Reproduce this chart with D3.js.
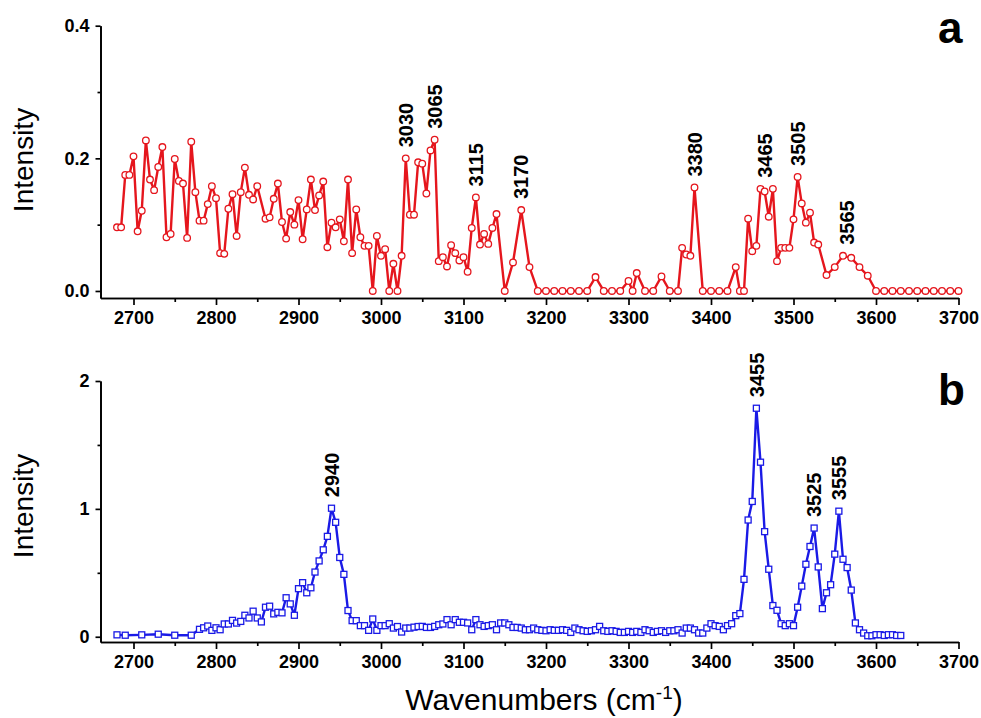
<!DOCTYPE html>
<meta charset="utf-8">
<style>
body { margin: 0; background: #fff; }
text { font-family: Arial, "Liberation Sans", sans-serif; }
.axis path, .axis line { stroke: #000; stroke-width: 1.7px; }
.axis text { font-size: 18px; font-weight: bold; fill: #000; }
.peak { font-size: 20px; font-weight: bold; }
</style>
<svg width="981" height="718"></svg>
<script src="https://d3js.org/d3.v7.min.js"></script>
<script>

// panel a : wavenumber (cm-1) and intensity
var waveA = [2680, 2685, 2690, 2695, 2700, 2705, 2710, 2715, 2720, 2725, 2730, 2735, 2740, 2745, 2750, 2755, 2760, 2765, 2770, 2775,
  2780, 2785, 2790, 2795, 2800, 2805, 2810, 2815, 2820, 2825, 2830, 2835, 2840, 2845, 2850, 2860, 2865, 2870, 2875, 2880,
  2885, 2890, 2895, 2900, 2905, 2910, 2915, 2920, 2925, 2930, 2935, 2940, 2945, 2950, 2955, 2960, 2965, 2970, 2975, 2980,
  2985, 2990, 2995, 3000, 3005, 3010, 3015, 3020, 3025, 3030, 3035, 3040, 3045, 3050, 3055, 3060, 3065, 3070, 3075, 3080,
  3085, 3090, 3095, 3100, 3105, 3110, 3115, 3120, 3125, 3130, 3135, 3140, 3150, 3160, 3170, 3180, 3190, 3200, 3210, 3220,
  3230, 3240, 3250, 3260, 3270, 3280, 3290, 3300, 3305, 3310, 3320, 3330, 3340, 3350, 3360, 3365, 3370, 3375, 3380, 3390,
  3400, 3410, 3420, 3430, 3435, 3440, 3445, 3450, 3455, 3460, 3465, 3470, 3475, 3480, 3485, 3490, 3495, 3500, 3505, 3510,
  3515, 3520, 3525, 3530, 3540, 3550, 3560, 3570, 3580, 3590, 3600, 3610, 3620, 3630, 3640, 3650, 3660, 3670, 3680, 3690,
  3700];
var intA = [0.096, 0.096, 0.175, 0.175, 0.203, 0.090, 0.121, 0.227, 0.168, 0.152, 0.187, 0.217, 0.081, 0.086, 0.199, 0.166, 0.162, 0.080, 0.225, 0.149,
  0.106, 0.106, 0.131, 0.158, 0.140, 0.057, 0.056, 0.124, 0.146, 0.083, 0.149, 0.186, 0.145, 0.138, 0.158, 0.109, 0.111, 0.139, 0.162, 0.104,
  0.079, 0.119, 0.100, 0.137, 0.078, 0.123, 0.168, 0.122, 0.144, 0.165, 0.066, 0.103, 0.096, 0.108, 0.075, 0.168, 0.057, 0.123, 0.081, 0.068,
  0.068, 0.000, 0.083, 0.053, 0.063, 0.000, 0.041, 0.000, 0.053, 0.200, 0.115, 0.115, 0.194, 0.192, 0.147, 0.212, 0.228, 0.045, 0.051, 0.037,
  0.069, 0.057, 0.046, 0.051, 0.029, 0.095, 0.141, 0.070, 0.086, 0.071, 0.095, 0.116, 0.000, 0.043, 0.122, 0.036, 0.000, 0.000, 0.000, 0.000,
  0.000, 0.000, 0.000, 0.021, 0.000, 0.000, 0.000, 0.015, 0.000, 0.027, 0.000, 0.000, 0.022, 0.000, 0.000, 0.065, 0.055, 0.053, 0.156, 0.000,
  0.000, 0.000, 0.000, 0.036, 0.000, 0.000, 0.109, 0.060, 0.068, 0.154, 0.150, 0.112, 0.154, 0.045, 0.065, 0.065, 0.065, 0.108, 0.172, 0.132,
  0.103, 0.118, 0.073, 0.070, 0.024, 0.036, 0.053, 0.050, 0.036, 0.023, 0.000, 0.000, 0.000, 0.000, 0.000, 0.000, 0.000, 0.000, 0.000, 0.000,
  0.000];
var peaksA = [3030, 3065, 3115, 3170, 3380, 3465, 3505, 3565];

// panel b
var waveB = [2680, 2690, 2710, 2730, 2750, 2770, 2780, 2785, 2790, 2795,
  2800, 2805, 2810, 2815, 2820, 2825, 2830, 2835, 2840, 2845, 2850, 2855, 2860, 2865, 2870, 2875, 2880, 2885, 2890, 2895,
  2900, 2905, 2910, 2915, 2920, 2925, 2930, 2935, 2940, 2945, 2950, 2955, 2960, 2965, 2970, 2975, 2980, 2985, 2990, 2995,
  3000, 3005, 3010, 3015, 3020, 3025, 3030, 3035, 3040, 3045, 3050, 3055, 3060, 3065, 3070, 3075, 3080, 3085, 3090, 3095,
  3100, 3105, 3110, 3115, 3120, 3125, 3130, 3135, 3140, 3145, 3150, 3155, 3160, 3165, 3170, 3175, 3180, 3185, 3190, 3195,
  3200, 3205, 3210, 3215, 3220, 3225, 3230, 3235, 3240, 3245, 3250, 3255, 3260, 3265, 3270, 3275, 3280, 3285, 3290, 3295,
  3300, 3305, 3310, 3315, 3320, 3325, 3330, 3335, 3340, 3345, 3350, 3355, 3360, 3365, 3370, 3375, 3380, 3385, 3390, 3395,
  3400, 3405, 3410, 3415, 3420, 3425, 3430, 3435, 3440, 3445, 3450, 3455, 3460, 3465, 3470, 3475, 3480, 3485, 3490, 3495,
  3500, 3505, 3510, 3515, 3520, 3525, 3530, 3535, 3540, 3545, 3550, 3555, 3560, 3565, 3570, 3575, 3580, 3585, 3590, 3595,
  3600, 3605, 3610, 3615, 3620, 3625, 3630];
var intB = [0.015, 0.012, 0.015, 0.020, 0.012, 0.012, 0.058, 0.070, 0.084, 0.050,
  0.070, 0.055, 0.100, 0.100, 0.128, 0.107, 0.120, 0.168, 0.147, 0.200, 0.147, 0.116, 0.231, 0.239, 0.179, 0.191, 0.187, 0.305, 0.257, 0.168,
  0.376, 0.423, 0.344, 0.383, 0.506, 0.593, 0.680, 0.785, 1.005, 0.895, 0.620, 0.488, 0.205, 0.126, 0.126, 0.087, 0.087, 0.050, 0.139, 0.050,
  0.087, 0.087, 0.102, 0.068, 0.080, 0.037, 0.068, 0.068, 0.075, 0.080, 0.081, 0.073, 0.073, 0.081, 0.094, 0.100, 0.134, 0.094, 0.134, 0.113,
  0.113, 0.108, 0.055, 0.134, 0.094, 0.081, 0.087, 0.094, 0.055, 0.108, 0.108, 0.094, 0.073, 0.073, 0.068, 0.055, 0.055, 0.068, 0.055, 0.050,
  0.047, 0.055, 0.050, 0.050, 0.055, 0.050, 0.034, 0.068, 0.055, 0.047, 0.042, 0.047, 0.055, 0.081, 0.047, 0.042, 0.047, 0.042, 0.034, 0.034,
  0.042, 0.034, 0.042, 0.034, 0.055, 0.047, 0.034, 0.042, 0.047, 0.034, 0.047, 0.047, 0.055, 0.029, 0.068, 0.068, 0.055, 0.029, 0.029, 0.068,
  0.102, 0.087, 0.081, 0.055, 0.087, 0.102, 0.165, 0.181, 0.449, 0.913, 1.058, 1.787, 1.365, 0.822, 0.528, 0.244, 0.207, 0.102, 0.087, 0.102,
  0.087, 0.231, 0.396, 0.567, 0.706, 0.850, 0.546, 0.220, 0.344, 0.407, 0.646, 0.982, 0.606, 0.541, 0.365, 0.108, 0.055, 0.029, 0.008, 0.008,
  0.016, 0.016, 0.010, 0.016, 0.016, 0.010, 0.010];
var peaksB = [2940, 3455, 3525, 3555];

var xMajor = [2700, 2800, 2900, 3000, 3100, 3200, 3300, 3400, 3500, 3600, 3700];
var xMinor = [2750, 2850, 2950, 3050, 3150, 3250, 3350, 3450, 3550, 3650];

var svg = d3.select("svg");

var x = d3.scaleLinear().domain([2660, 3700]).range([100.5, 958.5]);

var panels = [
  { wave: waveA, inten: intA, peaks: peaksA, color: "#e5161d", mark: "circle", letter: "a",
    y: d3.scaleLinear().domain([-0.0106, 0.4]).range([298, 25.7]),
    yMajor: [0, 0.2, 0.4], yMinor: [0.1, 0.3], fmt: d3.format(".1f"), labelY: 160, letterY: 43 },
  { wave: waveB, inten: intB, peaks: peaksB, color: "#1a1ae6", mark: "square", letter: "b",
    y: d3.scaleLinear().domain([-0.041, 2]).range([642, 381]),
    yMajor: [0, 1, 2], yMinor: [0.5, 1.5], fmt: d3.format("d"), labelY: 506, letterY: 405 }
];

panels.forEach(function(p) {
  var y = p.y;
  var base = y.range()[0];
  var pts = p.wave.map(function(w, i) { return [w, p.inten[i]]; });

  // axes
  svg.append("g").attr("class", "axis")
      .attr("transform", "translate(0," + base + ")")
      .call(d3.axisBottom(x).tickValues(xMajor).tickSize(7).tickSizeOuter(0).tickPadding(6).tickFormat(d3.format("d")));
  svg.append("g").attr("class", "axis")
      .attr("transform", "translate(0," + base + ")")
      .call(d3.axisBottom(x).tickValues(xMinor).tickSize(4).tickSizeOuter(0).tickFormat(""));
  svg.append("g").attr("class", "axis")
      .attr("transform", "translate(" + x.range()[0] + ",0)")
      .call(d3.axisLeft(y).tickValues(p.yMajor).tickSize(5).tickSizeOuter(0).tickPadding(6).tickFormat(p.fmt));
  svg.append("g").attr("class", "axis")
      .attr("transform", "translate(" + x.range()[0] + ",0)")
      .call(d3.axisLeft(y).tickValues(p.yMinor).tickSize(3).tickSizeOuter(0).tickFormat(""));

  // line
  svg.append("path")
      .datum(pts)
      .attr("fill", "none")
      .attr("stroke", p.color)
      .attr("stroke-width", 2.4)
      .attr("stroke-linejoin", "round")
      .attr("d", d3.line().x(function(d) { return x(d[0]); }).y(function(d) { return y(d[1]); }));

  // markers
  var g = svg.append("g");
  if (p.mark == "circle") {
    g.selectAll("circle").data(pts).enter().append("circle")
        .attr("cx", function(d) { return x(d[0]); })
        .attr("cy", function(d) { return y(d[1]); })
        .attr("r", 3.3)
        .attr("fill", "#fff")
        .attr("stroke", p.color)
        .attr("stroke-width", 1.3);
  } else {
    g.selectAll("rect").data(pts).enter().append("rect")
        .attr("x", function(d) { return x(d[0]) - 3; })
        .attr("y", function(d) { return y(d[1]) - 3; })
        .attr("width", 6)
        .attr("height", 6)
        .attr("fill", "#fff")
        .attr("stroke", p.color)
        .attr("stroke-width", 1.3);
  }

  // peak labels, sitting just above the highest nearby point
  p.peaks.forEach(function(w) {
    var near = pts.filter(function(d) { return Math.abs(d[0] - w) <= 10; });
    var top = d3.max(near, function(d) { return d[1]; });
    svg.append("text")
        .attr("class", "peak")
        .attr("transform", "translate(" + x(w) + "," + (y(top) - 11) + ") rotate(-90)")
        .attr("dy", "0.36em")
        .text(w);
  });

  svg.append("text")
      .attr("transform", "translate(33," + p.labelY + ") rotate(-90)")
      .attr("text-anchor", "middle")
      .style("font-size", "28px")
      .text("Intensity");

  svg.append("text")
      .attr("x", 938).attr("y", p.letterY)
      .style("font-size", "44px")
      .style("font-weight", "bold")
      .text(p.letter);
});

var xl = svg.append("text")
    .attr("x", 544).attr("y", 710)
    .attr("text-anchor", "middle")
    .style("font-size", "30px");
xl.append("tspan").text("Wavenumbers (cm");
xl.append("tspan").attr("dy", -11).style("font-size", "19px").text("-1");
xl.append("tspan").attr("dy", 11).text(")");

</script>
